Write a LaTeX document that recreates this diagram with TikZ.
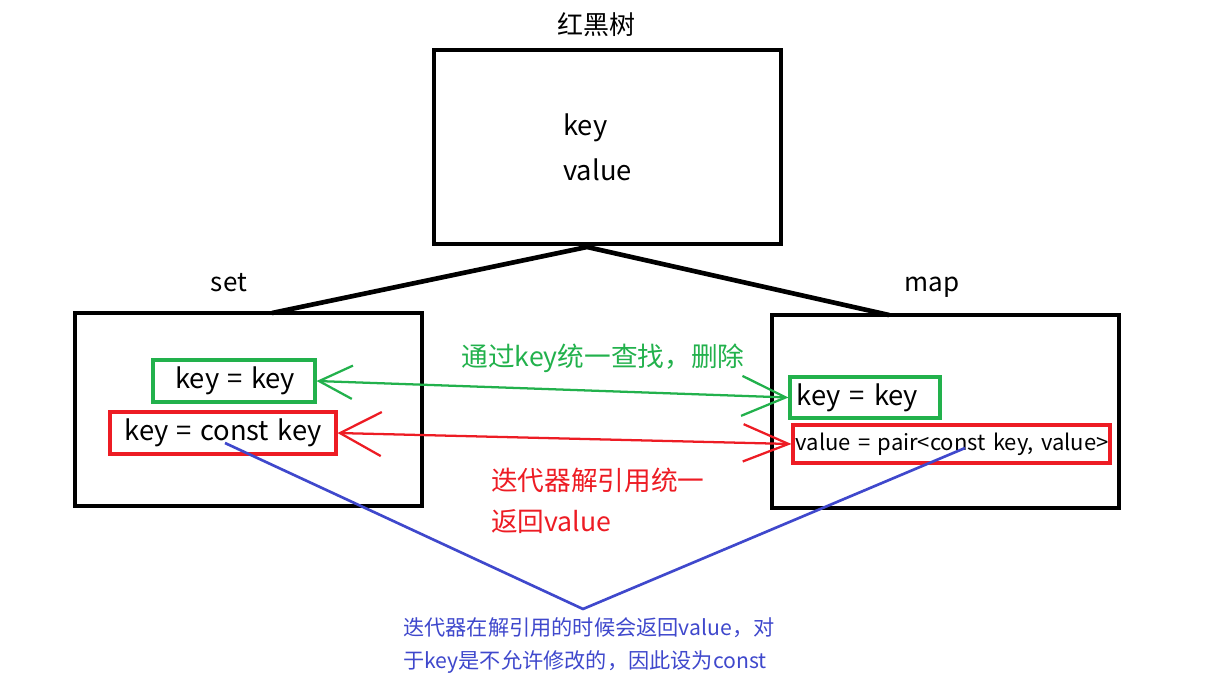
\documentclass[tikz,border=0pt]{standalone}
\usepackage{fontspec}
\setmainfont[WordSpace=1.35]{Noto Sans CJK SC}
\usepackage{xcolor}
\usetikzlibrary{arrows.meta,positioning}
\definecolor{pgreen}{RGB}{34,177,76}
\definecolor{pred}{RGB}{237,28,36}
\definecolor{pblue}{RGB}{63,72,204}

\begin{document}
\begin{tikzpicture}[x=0.75pt,y=-0.75pt,
  bigbox/.style={draw,line width=3.2pt,minimum width=260pt,minimum height=145pt},
  greenbox/.style={draw=pgreen,line width=2.3pt,inner sep=0pt,font=\fontsize{20.5pt}{22pt}\selectfont},
  redbox/.style={draw=pred,line width=2.3pt,inner sep=0pt},
  plain/.style={inner sep=0pt,font=\fontsize{20.5pt}{22pt}\selectfont}]
  \useasboundingbox (0,0) rectangle (1217,689);

  % three main boxes
  \node[bigbox] (tree) at (607.5,147) {};
  \node[bigbox] (set) at (248.5,409.5) {};
  \node[bigbox] (map) at (945.5,411.5) {};
  \node[font=\fontsize{19.5pt}{22pt}\selectfont] (treelabel) at (596,25) {红黑树};
  \node[plain,font=\fontsize{19.5pt}{22pt}\selectfont] (setlabel) at (229,283) {set};
  \node[plain,font=\fontsize{19.5pt}{22pt}\selectfont] (maplabel) at (932,287) {map};
  \node[plain,anchor=west] (tkey) at (563,128) {key};
  \node[plain,anchor=west] (tvalue) at (563,170) {value};

  % tree to set and map
  \coordinate (apex) at (587,247);
  \coordinate (setend) at (272,313);
  \coordinate (mapend) at (889,315);
  \draw[line width=3.5pt] (setend) -- (apex) -- (mapend);

  % inner boxes
  \node[greenbox,minimum width=121.5pt,minimum height=31.5pt] (sgreen) at (234,381) {\hspace{2pt}key = key\hspace{5pt}};
  \node[redbox,minimum width=169.5pt,minimum height=31.5pt,font=\fontsize{20.5pt}{22pt}\selectfont] (sred) at (223,433) {key = const key};
  \node[greenbox,minimum height=30.75pt,inner xsep=5pt,text width=102.5pt,align=left] (mgreen) at (865,397.5) {key = key};
  \node[redbox,minimum height=28.5pt,inner xsep=2pt,text width=233.75pt,align=left,font=\fontsize{16.5pt}{18pt}\selectfont] (mred) at (951.5,444) {\mbox{value = pair<const key, value>}};

  % arrows
  \draw[pgreen,line width=1.7pt,{Straight Barb[length=25pt,width=25pt]}-{Straight Barb[length=33pt,width=30pt]}] (sgreen.east) -- (mgreen.west);
  \draw[pred,line width=1.7pt,{Straight Barb[length=31pt,width=33pt]}-{Straight Barb[length=34pt,width=28pt]}] (sred.east) -- (mred.west);
  \node[pgreen,font=\fontsize{20pt}{22pt}\selectfont] (findlabel) at (603,358) {通过key统一查找，删除};
  \node[pred,anchor=west,inner sep=0pt,align=left,font=\fontsize{20pt}{30.75pt}\selectfont] (derefl) at (491,501) {迭代器解引用统一\\返回value};

  % const note
  \coordinate (cstart) at (225,443);
  \coordinate (vtip) at (583,609);
  \coordinate (cend) at (965,448);
  \draw[pblue,line width=2pt] (cstart) -- (vtip) -- (cend);
  \node[pblue,anchor=west,inner sep=0pt,align=left,font=\fontsize{15.9pt}{24.75pt}\selectfont] (note) at (403,646) {迭代器在解引用的时候会返回value，对\\于key是不允许修改的，因此设为const};
\end{tikzpicture}
\end{document}
